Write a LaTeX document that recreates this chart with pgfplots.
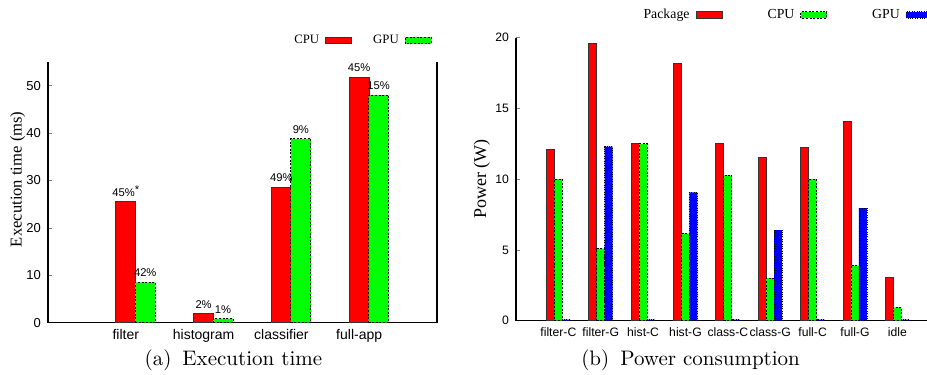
\documentclass[border=0pt]{standalone}
\usepackage{fontspec}
\usepackage{pgfplots}
\pgfplotsset{compat=1.18}
\newfontfamily\helv{Liberation Sans}
\newfontfamily\tms{Liberation Serif}
\definecolor{gcol}{RGB}{0,255,0}
\definecolor{rcol}{RGB}{255,0,0}
\definecolor{bcol}{RGB}{0,0,255}
\pgfplotsset{
  redbar/.style={ybar, bar shift=0pt, fill=rcol, draw=black!80, line width=0.5pt,
    legend image code/.code={\draw[##1] (0pt,-1.6pt) rectangle (13pt,1.6pt);}},
  greenbar/.style={ybar, bar shift=0pt, fill=gcol, draw=black, dash pattern=on 1pt off 0.8pt, line width=0.4pt,
    legend image code/.code={\draw[##1] (0pt,-1.6pt) rectangle (13pt,1.6pt);}},
  bluebar/.style={ybar, bar shift=0pt, fill=bcol, draw=black, dash pattern=on 0.5pt off 0.7pt, line width=0.4pt,
    legend image code/.code={\draw[##1] (0pt,-1.6pt) rectangle (13pt,1.6pt);}},
}
\begin{document}
\begin{tikzpicture}
\useasboundingbox (0,0) rectangle (463.5pt,187.5pt);
% ---------------- (a) Execution time ----------------
\begin{axis}[
  at={(24pt,26.15pt)}, anchor=south west, scale only axis,
  width=194.5pt, height=130.35pt,
  xmin=0, xmax=5, ymin=0, ymax=55,
  axis x line*=bottom,
  axis line style={black, line width=0.6pt},
  ytick={0,10,20,30,40,50}, ytick pos=left,
  tick align=inside, major tick length=2pt,
  xtick={1,2,3,4}, xticklabels={filter,histogram,classifier,full-app},
  x tick style={draw=none},
  xticklabel style={font=\helv\fontsize{7}{8}\selectfont},
  yticklabel style={font=\helv\fontsize{6.5}{7}\selectfont},
  /pgf/number format/assume math mode=true,
  ylabel={Execution time (ms)},
  ylabel style={font=\tms\fontsize{8.3}{9}\selectfont, at={(axis description cs:-0.078,0.55)}, anchor=center},
  legend columns=2, legend plot pos=right,
  legend style={draw=none, fill=none, inner sep=0pt, font=\tms\fontsize{6.4}{7}\selectfont,
    at={(axis description cs:1,1)}, anchor=east, xshift=-2.5pt, yshift=10.7pt,
    nodes={inner sep=0pt},
    /tikz/every odd column/.append style={column sep=3pt},
    /tikz/every even column/.append style={column sep=10.5pt}},
  nodes near coords, point meta=explicit symbolic,
  every node near coord/.append style={font=\helv\fontsize{5.6}{6}\selectfont, anchor=south, inner sep=0pt, yshift=2.5pt, text=black},
]
\addplot[redbar, bar width=10pt] coordinates {(1,25.5)[45\%\raisebox{1.6pt}{*}] (2,1.9)[2\%] (3,28.5)[49\%] (4,51.8)[45\%]};
\addlegendentry{CPU}
\addplot[greenbar, bar width=10pt] coordinates {(1.25,8.5)[42\%] (2.25,0.85)[1\%] (3.25,38.8)[9\%] (4.25,48.0)[15\%]};
\addlegendentry{GPU}
\end{axis}
% ---------------- (b) Power consumption ----------------
\begin{axis}[
  at={(258pt,27.15pt)}, anchor=south west, scale only axis,
  width=205.5pt, height=141.5pt,
  xmin=0, xmax=9.7, ymin=0, ymax=20,
  axis x line*=bottom, axis y line*=left,
  axis line style={black, line width=0.6pt, -},
  ytick={0,5,10,15,20},
  tick align=inside, major tick length=2pt,
  xtick={1,2,3,4,5,6,7,8,9},
  xticklabels={filter-C,filter-G,hist-C,hist-G,class-C,class-G,full-C,full-G,idle},
  x tick style={draw=none},
  xticklabel style={font=\helv\fontsize{6.1}{7}\selectfont},
  yticklabel style={font=\helv\fontsize{6.1}{7}\selectfont},
  /pgf/number format/assume math mode=true,
  ylabel={Power (W)},
  ylabel style={font=\tms\fontsize{9}{10}\selectfont, at={(axis description cs:-0.083,0.50)}, anchor=center},
  legend columns=3, legend plot pos=right,
  legend style={draw=none, fill=none, inner sep=0pt, font=\tms\fontsize{6.9}{8}\selectfont,
    at={(axis description cs:1,1)}, anchor=east, xshift=3pt, yshift=11.35pt,
    nodes={inner sep=0pt},
    /tikz/every odd column/.append style={column sep=3pt},
    /tikz/every even column/.append style={column sep=22.5pt}},
]
\addplot[redbar, bar width=4pt] coordinates {(0.812,12.1) (1.812,19.6) (2.812,12.5) (3.812,18.15) (4.812,12.55) (5.812,11.55) (6.812,12.25) (7.812,14.05) (8.812,3.06)};
\addlegendentry{Package}
\addplot[greenbar, bar width=4pt] coordinates {(1,10.0) (2,5.1) (3,12.5) (4,6.15) (5,10.27) (6,3.0) (7,10.0) (8,3.9) (9,0.95)};
\addlegendentry{CPU}
\addplot[bluebar, bar width=4pt] coordinates {(1.188,0.07) (2.188,12.3) (3.188,0.07) (4.188,9.07) (5.188,0.07) (6.188,6.4) (7.188,0.07) (8.188,7.96) (9.188,0.07)};
\addlegendentry{GPU}
\end{axis}
\node[font=\fontsize{10.5}{12}\selectfont] at (116.7pt,7.5pt) {(a)\hspace{5.5pt}Execution time};
\node[font=\fontsize{10.5}{12}\selectfont] at (345.3pt,7.5pt) {(b)\hspace{5.5pt}Power consumption};
\end{tikzpicture}
\end{document}
